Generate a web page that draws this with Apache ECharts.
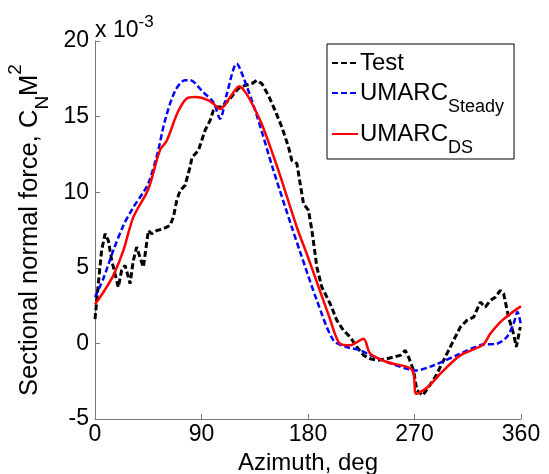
<!DOCTYPE html>
<html>
<head>
<meta charset="utf-8">
<script src="https://cdn.jsdelivr.net/npm/echarts@6/dist/echarts.min.js"></script>
<style>
  html, body { margin: 0; padding: 0; background: #fff; }
  #chart { width: 549px; height: 474px; }
</style>
</head>
<body>
<div id="chart"></div>
<script>
// values in units of 1e-3
const testAz = [0, 2.8, 5.6, 8.5, 11.3, 14.1, 16.9, 19.7, 22.5, 25.4, 28.2, 29.6, 32.4, 35.2, 38, 40.9, 42.3, 45.1, 47.9, 52.2, 57.8, 63.4, 66.2, 69.1, 71.9, 76.1, 80.3, 82, 87.4, 93, 97.3, 100, 103, 107, 114, 121, 126.8, 132.5, 136.7, 141, 146.6, 152.2, 157.9, 163.5, 166.3, 170.6, 173.4, 176.2, 180.4, 183.3, 187.5, 191.7, 198.7, 204.4, 210, 215.6, 221.3, 227, 232.6, 238.2, 246.7, 252.3, 258, 262.2, 265, 269.2, 272, 277, 281.9, 287.5, 294.6, 301.6, 308.7, 314.3, 320, 325.6, 329.8, 334, 338.3, 342.5, 345.3, 349.5, 353.7, 356, 359.4]
const testVal = [1.6, 3.95, 6.15, 7.25, 6.8, 5.5, 4.6, 3.72, 4.83, 5.16, 4.39, 3.95, 5.49, 6.37, 5.7, 5.05, 5.16, 7.47, 7.25, 7.47, 7.58, 7.8, 8.35, 9.46, 10.1, 10.45, 11.66, 12.3, 12.76, 14.09, 14.75, 15.4, 15.63, 15.63, 16.18, 16.85, 17.06, 17.18, 17.39, 17.18, 16.4, 15.4, 14.3, 13.0, 12.1, 11.9, 10.56, 9.24, 8.8, 7.47, 5.05, 3.72, 2.63, 1.52, 0.86, 0.42, -0.24, -0.79, -1.01, -1.12, -1.01, -0.9, -0.79, -0.46, -0.9, -1.79, -3.1, -3.44, -2.89, -2.23, -1.12, -0.02, 1.08, 1.52, 1.74, 2.73, 2.4, 2.84, 3.06, 3.5, 3.29, 1.74, 0.64, -0.24, 1.08]

const steadyAz = [0, 7, 15.5, 24, 32.4, 40.9, 45, 52, 59.2, 67.7, 76, 80.3, 91.6, 100, 105.7, 111.4, 119.8, 125.4, 136.7, 150.8, 166.3, 173.4, 187.5, 201.5, 212.8, 224, 232, 246.7, 265, 270.6, 286, 308.7, 327, 339.7, 348, 353.7, 357, 360]
const steadyVal = [3.06, 4.28, 6.15, 7.8, 9.0, 10.0, 10.56, 12.3, 14.75, 16.7, 17.4, 17.4, 16.6, 15.96, 14.86, 16.5, 18.5, 17.6, 15.08, 11.44, 7.69, 6.04, 2.84, 0.2, -0.24, -0.45, -0.75, -1.23, -1.72, -1.79, -1.46, -0.68, -0.09, -0.02, 0.42, 1.3, 2.07, 1.2]

const dsAz = [0, 8, 15.5, 24, 32.4, 45, 55, 60.6, 70, 77.5, 84.6, 90, 95.8, 100, 105.7, 110, 116, 122, 128, 135, 142, 155, 170.5, 180, 190, 198, 207, 215.6, 219.9, 227, 232.6, 246.7, 267.8, 271.5, 280.5, 294.6, 308.7, 327.9, 334, 342.5, 350, 357, 360]
const dsVal = [2.58, 3.5, 4.5, 6.15, 8.35, 10.2, 12.8, 13.4, 15.3, 16.2, 16.3, 16.25, 16.07, 15.85, 15.5, 15.8, 16.5, 17.0, 16.5, 15.5, 14.3, 11.44, 7.7, 5.7, 3.5, 1.75, -0.02, -0.13, 0.02, 0.31, -0.68, -1.23, -1.74, -3.33, -2.93, -1.79, -0.79, -0.09, 0.64, 1.41, 1.9, 2.3, 2.45]

const xTicks = [0, 90, 180, 270, 360]
const yTicks = [-5, 0, 5, 10, 15, 20]

const zip = (a, b) => a.map((x, i) => [x, b[i]])
const font = 'Liberation Sans, Arial, sans-serif'

const chart = echarts.init(document.getElementById('chart'))
const option = {
  animation: false,
  backgroundColor: '#fff',
  textStyle: { fontFamily: font },
  grid: { left: 95, right: 28, top: 41, bottom: 55, containLabel: false, outerBoundsMode: 'none' },
  graphic: [
    {
      type: 'text', left: 95, top: 14,
      style: {
        text: 'x 10{sup|-3}',
        font: '23px ' + font, fill: '#000',
        rich: { sup: { fontSize: 17, fontFamily: font, verticalAlign: 'top', lineHeight: 34 } }
      }
    }
  ],
  legend: {
    orient: 'vertical',
    left: 327, top: 44,
    padding: [7, 10, 2, 4],
    itemGap: 6,
    itemWidth: 26,
    itemHeight: 12,
    borderColor: '#000',
    borderWidth: 1,
    backgroundColor: '#fff',
    itemStyle: { opacity: 0 },
    data: ['Test', 'Steady', 'DS'],
    formatter: name => name === 'Test' ? 'Test' : 'UMARC{sub|' + name + '}',
    textStyle: {
      fontSize: 24, fontFamily: font, color: '#000', padding: [0, 0, 0, -3],
      rich: { sub: { fontSize: 18, fontFamily: font, color: '#000', verticalAlign: 'bottom', lineHeight: 46 } }
    }
  },
  xAxis: {
    type: 'value', min: 0, max: 360, interval: 90,
    name: 'Azimuth, deg', nameLocation: 'middle', nameGap: 29,
    nameTextStyle: { fontSize: 24, fontFamily: font, color: '#000' },
    axisLine: { onZero: false, lineStyle: { color: '#777', width: 1 } },
    axisTick: { inside: true, length: 5, lineStyle: { color: '#777' } },
    axisLabel: { fontSize: 23, color: '#000', margin: 4, customValues: xTicks },
    splitLine: { show: false }
  },
  yAxis: {
    type: 'value', min: -5, max: 20, interval: 5,
    name: 'Sectional normal force, C{sub|N}M{sup|2}', nameLocation: 'middle', nameGap: 40, nameRotate: 90,
    nameTextStyle: { fontSize: 25.5, fontFamily: font, color: '#000',
      rich: {
        sub: { fontSize: 19, fontFamily: font, verticalAlign: 'bottom', lineHeight: 46 },
        sup: { fontSize: 19, fontFamily: font, verticalAlign: 'top', lineHeight: 46 }
      } },
    axisLine: { show: true, onZero: false, lineStyle: { color: '#777', width: 1 } },
    axisTick: { show: true, inside: true, length: 5, lineStyle: { color: '#777' } },
    axisLabel: { fontSize: 23, color: '#000', margin: 6, customValues: yTicks },
    splitLine: { show: false }
  },
  series: [
    {
      name: 'Test', type: 'line', data: zip(testAz, testVal),
      symbol: 'none', smooth: false,
      lineStyle: { color: '#000', width: 3, type: [6, 3] },
      itemStyle: { color: '#000' }
    },
    {
      name: 'Steady', type: 'line', data: zip(steadyAz, steadyVal),
      symbol: 'none', smooth: 0.3,
      lineStyle: { color: '#0000ff', width: 2.5, type: [6, 3] },
      itemStyle: { color: '#0000ff' }
    },
    {
      name: 'DS', type: 'line', data: zip(dsAz, dsVal),
      symbol: 'none', smooth: 0.3,
      lineStyle: { color: '#ff0000', width: 2.5, type: 'solid' },
      itemStyle: { color: '#ff0000' }
    }
  ]
}
chart.setOption(option)
</script>
</body>
</html>
